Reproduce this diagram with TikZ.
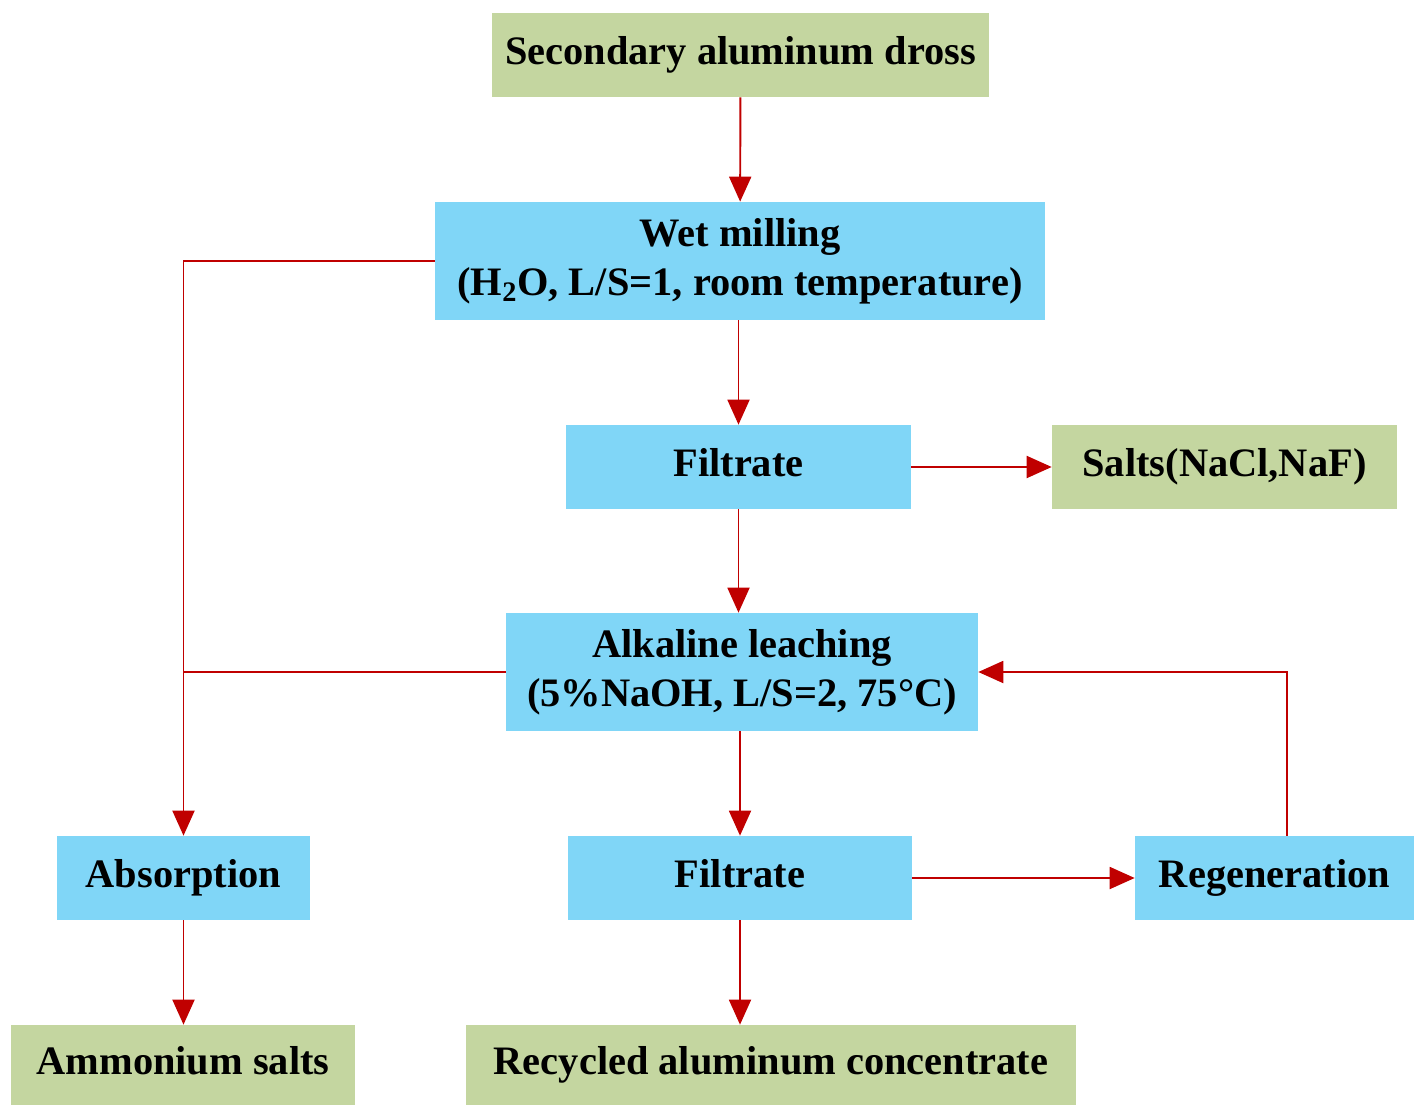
\documentclass[tikz,border=0pt]{standalone}
\usepackage{fontspec}
\setmainfont{Liberation Serif}
\usetikzlibrary{positioning, arrows.meta}

\definecolor{boxgreen}{RGB}{196,214,160}
\definecolor{boxblue}{RGB}{128,214,247}
\definecolor{linered}{RGB}{192,0,0}

\tikzset{
    stage/.style={fill=boxblue, minimum height=1.68cm, inner sep=0pt, align=center,
        font=\fontsize{23}{28}\selectfont\bfseries},
    product/.style={stage, fill=boxgreen},
    oneline/.style={text height=16pt, text depth=5pt},
    flow/.style={draw=linered, line width=1.1pt,
        -{Triangle[length=0.5cm, width=0.44cm]}},
    link/.style={draw=linered, line width=1.1pt}
}

\begin{document}
\begin{tikzpicture}[x=0.02cm, y=-0.02cm]
    \useasboundingbox (0,0) rectangle (1414,1105);

    \node[product, oneline, minimum width=9.94cm] (dross) at (740.5,55) {Secondary aluminum dross};
    \node[stage, minimum width=12.2cm, minimum height=2.36cm] (wet) at (740,261)
        {Wet milling\\(H\textsubscript{2}O, L/S=1, room temperature)};
    \node[stage, oneline, minimum width=6.9cm] (filtA) at (738.5,467) {Filtrate};
    \node[product, oneline, minimum width=6.9cm] (salts) at (1224.5,467) {Salts(NaCl,NaF)};
    \node[stage, minimum width=9.44cm, minimum height=2.36cm] (alk) at (742,672)
        {Alkaline leaching\\(5\%NaOH, L/S=2, 75\textdegree C)};
    \node[stage, oneline, minimum width=5.06cm] (absorb) at (183.5,878) {Absorption};
    \node[stage, oneline, minimum width=6.88cm] (filtB) at (740,878) {Filtrate};
    \node[stage, oneline, minimum width=5.58cm] (regen) at (1274.5,878) {Regeneration};
    \node[product, oneline, minimum width=6.88cm, minimum height=1.6cm] (ammon) at (183,1065) {Ammonium salts};
    \node[product, oneline, minimum width=12.2cm, minimum height=1.6cm] (recyc) at (771,1065) {Recycled aluminum concentrate};

    % main line
    \path[flow] (dross) -- (wet);
    \path[flow] (wet.south -| filtA) -- (filtA);
    \path[flow] (filtA) -- (salts);
    \path[flow] (filtA.south) -- (filtA.south |- alk.north);
    \path[flow] (alk.south -| filtB) -- (filtB);
    \path[flow] (filtB) -- (regen);
    \path[flow] ([xshift=0.25cm]regen.north) |- (alk.east);
    \path[flow] (filtB.south) -- (filtB.south |- recyc.north);

    % gas side
    \path[flow] (wet.west) -| (absorb.north);
    \path[link] (alk.west) -- (alk.west -| absorb);
    \path[flow] (absorb) -- (absorb |- ammon.north);
\end{tikzpicture}
\end{document}
